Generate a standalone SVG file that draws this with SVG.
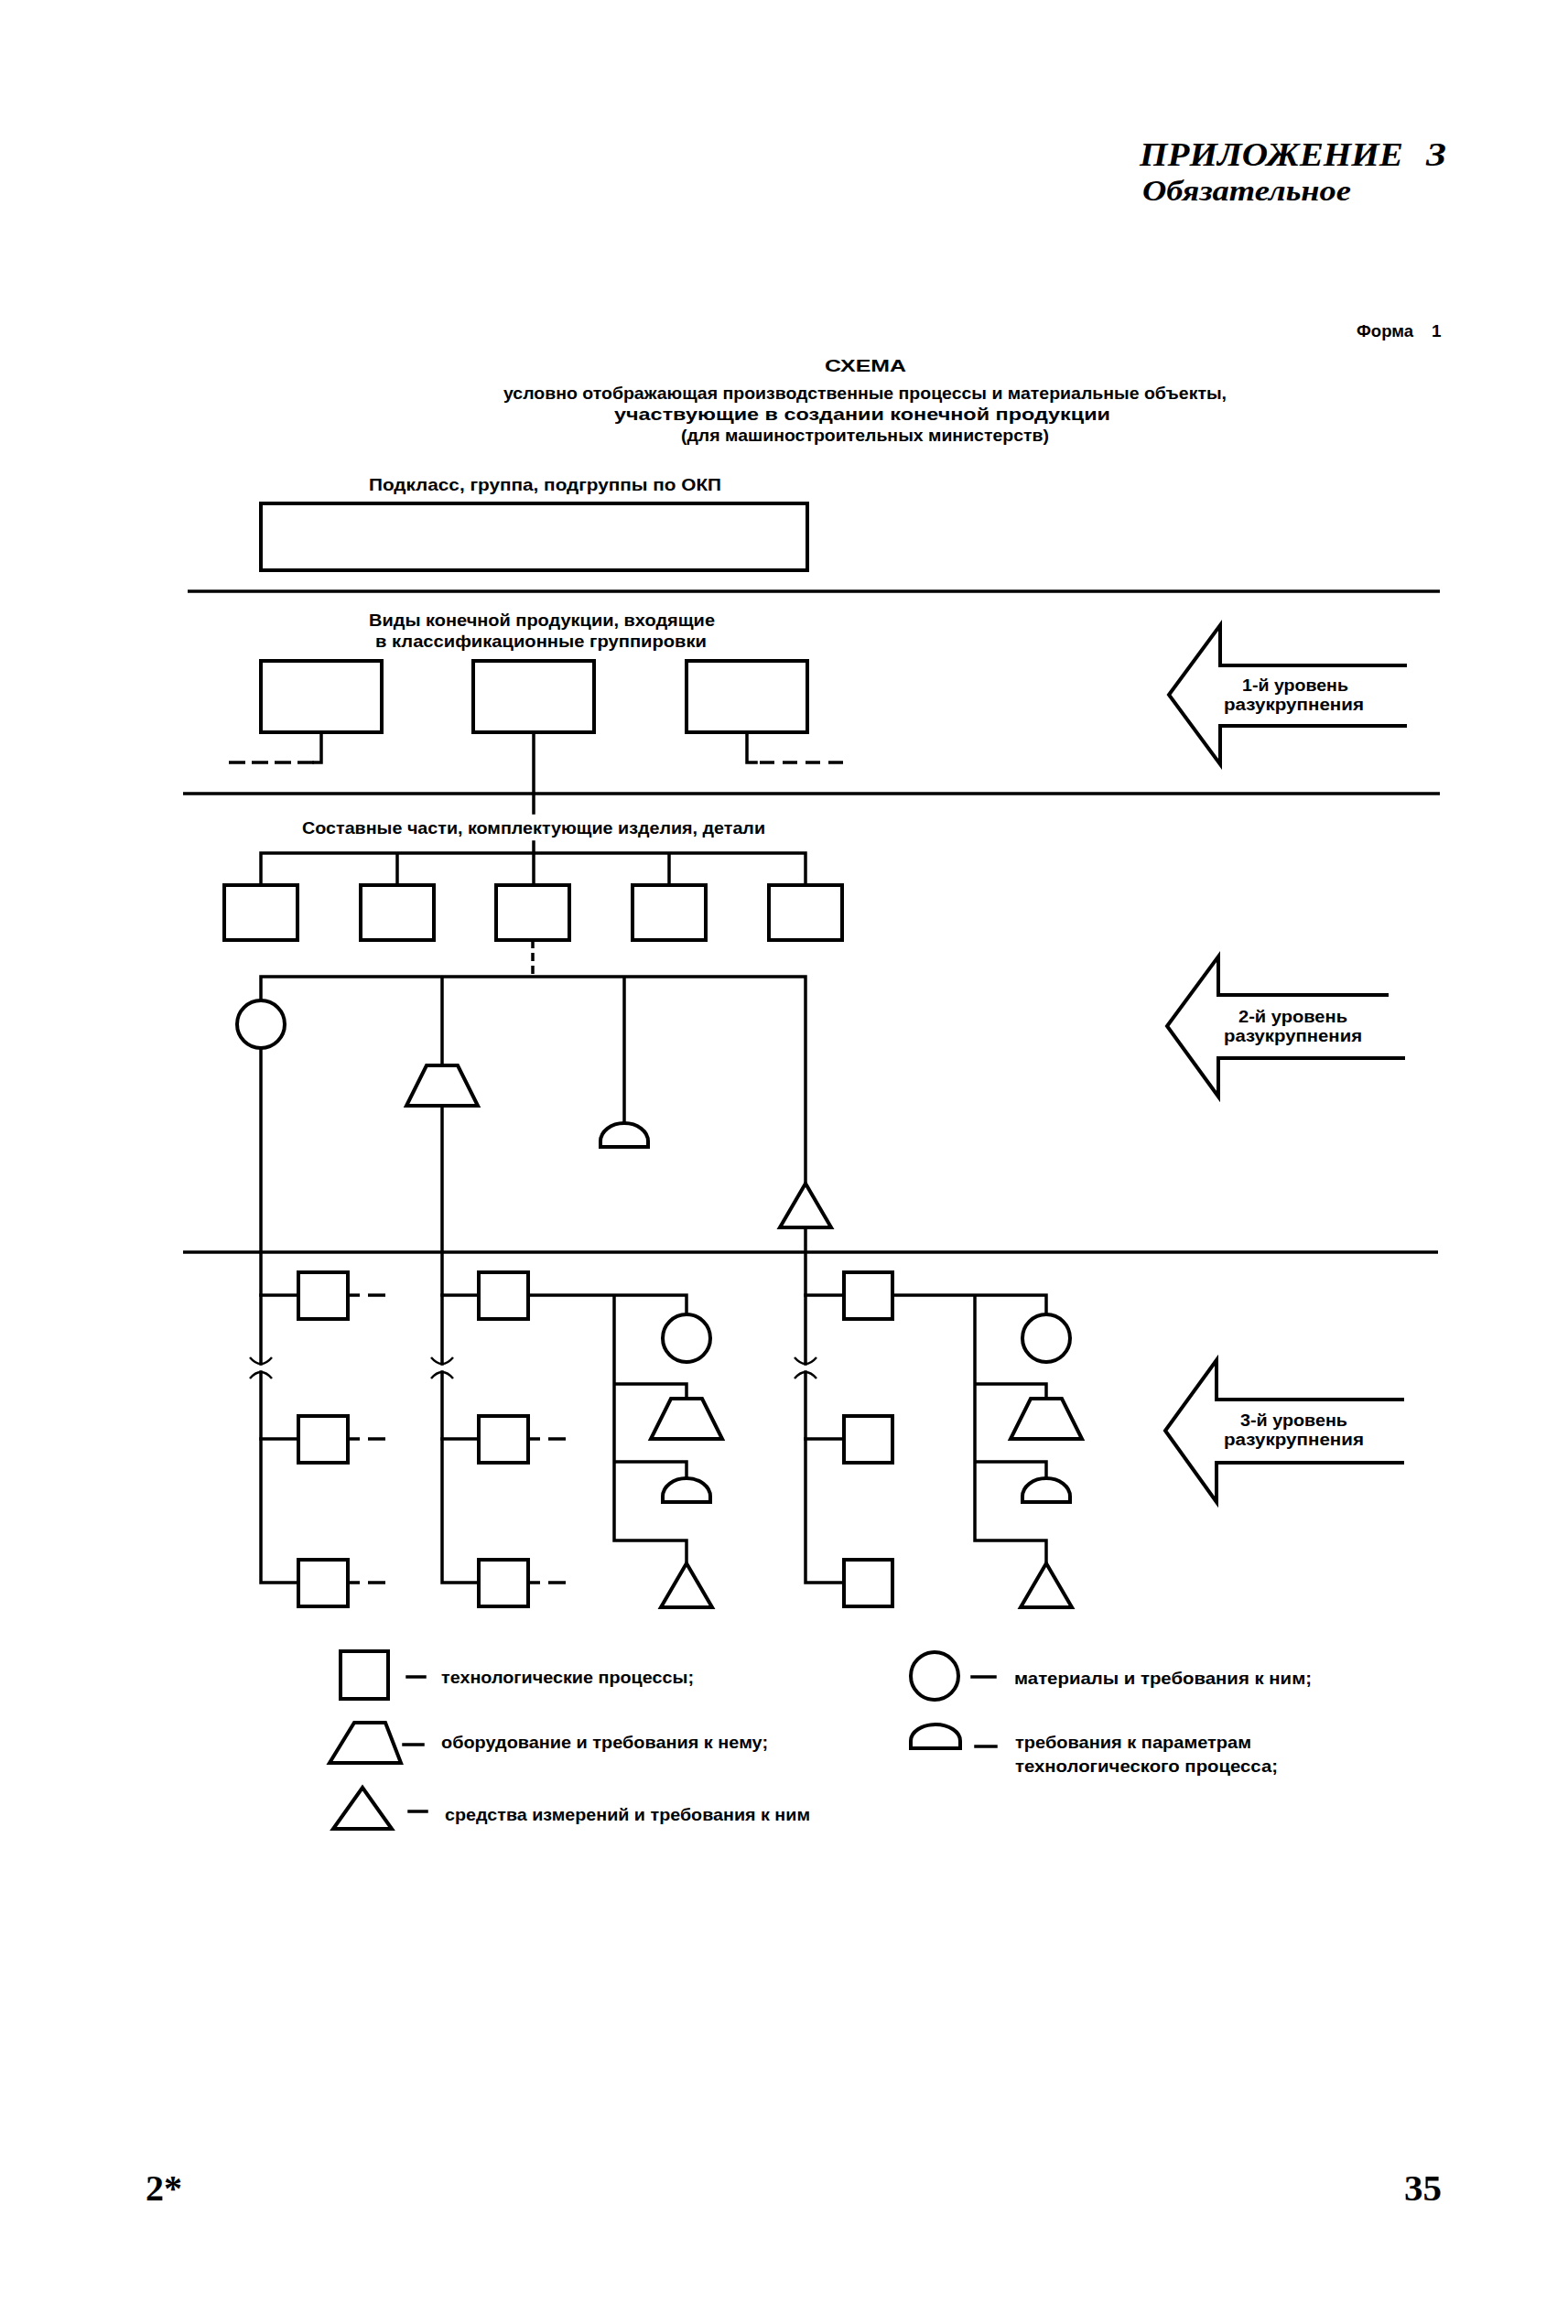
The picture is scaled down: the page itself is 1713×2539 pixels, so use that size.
<svg xmlns="http://www.w3.org/2000/svg" xmlns:xlink="http://www.w3.org/1999/xlink" width="1713" height="2539" viewBox="0 0 1713 2539">
<style>
.ln{stroke:#000;stroke-width:3.5;fill:none;stroke-linecap:square}
.sep{stroke:#000;stroke-width:3.5;fill:none}
.sh{stroke:#000;stroke-width:4;fill:#fff;stroke-linejoin:miter}
.br{stroke:#000;stroke-width:2.5;fill:none}
.t{font-family:"Liberation Sans",Arial,sans-serif;font-weight:bold;font-size:19px;fill:#000}
.ta{font-family:"Liberation Sans",Arial,sans-serif;font-weight:bold;font-size:18px;fill:#000}
.hd{font-family:"Liberation Serif","Times New Roman",serif;font-weight:bold;font-style:italic;fill:#000}
.pg{font-family:"Liberation Serif","Times New Roman",serif;font-weight:bold;font-size:41px;fill:#000}
</style>
<defs>
<path id="trap" d="M -17,0 L 17,0 L 39,44 L -39,44 Z"/>
<path id="dome" d="M -26,26 L -26,20 A 26 20 0 0 1 26,20 L 26,26 Z"/>
<path id="tri" d="M 0,0 L 28,48 L -28,48 Z"/>
</defs>
<rect width="1713" height="2539" fill="#fff"/>

<g id="header">
<text class="hd" x="1245" y="181" font-size="35" textLength="288" lengthAdjust="spacingAndGlyphs">ПРИЛОЖЕНИЕ</text>
<text class="hd" x="1558" y="181" font-size="35" textLength="22" lengthAdjust="spacingAndGlyphs">3</text>
<text class="hd" x="1248" y="219" font-size="31" textLength="228" lengthAdjust="spacingAndGlyphs">Обязательное</text>
<text class="t" x="1482" y="368" font-size="15" textLength="62" lengthAdjust="spacingAndGlyphs">Форма</text>
<text class="t" x="1564" y="368" font-size="19">1</text>
<text class="t" x="901" y="406" font-size="21" textLength="89" lengthAdjust="spacingAndGlyphs">СХЕМА</text>
<text class="t" x="550" y="436" textLength="790" lengthAdjust="spacingAndGlyphs">условно отображающая производственные процессы и материальные объекты,</text>
<text class="t" x="671" y="459" textLength="542" lengthAdjust="spacingAndGlyphs">участвующие в создании конечной продукции</text>
<text class="t" x="744" y="482" textLength="402" lengthAdjust="spacingAndGlyphs">(для машиностроительных министерств)</text>
</g>

<g id="separators">
<path class="sep" d="M 205,646 H 1573"/>
<path class="sep" d="M 200,867 H 1573"/>
<path class="sep" d="M 200,1368 H 1571"/>
</g>

<g id="okp">
<text class="t" x="403" y="536" textLength="385" lengthAdjust="spacingAndGlyphs">Подкласс, группа, подгруппы по ОКП</text>
<rect class="sh" x="285" y="550" width="597" height="73"/>
</g>

<g id="level1-label">
<text class="t" x="403" y="684" textLength="378" lengthAdjust="spacingAndGlyphs">Виды конечной продукции, входящие</text>
<text class="t" x="410" y="707" textLength="362" lengthAdjust="spacingAndGlyphs">в классификационные группировки</text>
</g>
<g id="product1"><rect class="sh" x="285" y="722" width="132" height="78"/></g>
<g id="product2"><rect class="sh" x="517" y="722" width="132" height="78"/></g>
<g id="product3"><rect class="sh" x="750" y="722" width="132" height="78"/></g>

<g id="level2-label">
<text class="t" x="330" y="911" textLength="506" lengthAdjust="spacingAndGlyphs">Составные части, комплектующие изделия, детали</text>
</g>
<g id="part1"><rect class="sh" x="245" y="967" width="80" height="60"/></g>
<g id="part2"><rect class="sh" x="394" y="967" width="80" height="60"/></g>
<g id="part3"><rect class="sh" x="542" y="967" width="80" height="60"/></g>
<g id="part4"><rect class="sh" x="691" y="967" width="80" height="60"/></g>
<g id="part5"><rect class="sh" x="840" y="967" width="80" height="60"/></g>

<g id="l2-material"><circle class="sh" cx="285" cy="1119" r="26"/></g>
<g id="l2-equipment"><use href="#trap" xlink:href="#trap" class="sh" x="483" y="1164"/></g>
<g id="l2-params"><use href="#dome" xlink:href="#dome" class="sh" x="682" y="1227"/></g>
<g id="l2-measure"><use href="#tri" xlink:href="#tri" class="sh" x="880" y="1293"/></g>

<g id="l3-col1">
<rect class="sh" x="326" y="1390" width="54" height="51"/>
<rect class="sh" x="326" y="1547" width="54" height="51"/>
<rect class="sh" x="326" y="1704" width="54" height="51"/>
</g>
<g id="l3-col2">
<rect class="sh" x="523" y="1390" width="54" height="51"/>
<rect class="sh" x="523" y="1547" width="54" height="51"/>
<rect class="sh" x="523" y="1704" width="54" height="51"/>
<circle class="sh" cx="750" cy="1462" r="26"/>
<use href="#trap" xlink:href="#trap" class="sh" x="750" y="1528"/>
<use href="#dome" xlink:href="#dome" class="sh" x="750" y="1615"/>
<use href="#tri" xlink:href="#tri" class="sh" x="750" y="1708"/>
</g>
<g id="l3-col3">
<rect class="sh" x="922" y="1390" width="53" height="51"/>
<rect class="sh" x="922" y="1547" width="53" height="51"/>
<rect class="sh" x="922" y="1704" width="53" height="51"/>
<circle class="sh" cx="1143" cy="1462" r="26"/>
<use href="#trap" xlink:href="#trap" class="sh" x="1143" y="1528"/>
<use href="#dome" xlink:href="#dome" class="sh" x="1143" y="1615"/>
<use href="#tri" xlink:href="#tri" class="sh" x="1143" y="1708"/>
</g>

<g id="arrow1">
<path class="sh" d="M 1537,727 H 1333 V 683 L 1277,759 L 1333,835 V 793 H 1537" style="fill:none"/>
<text class="ta" x="1357" y="755" textLength="116" lengthAdjust="spacingAndGlyphs">1-й уровень</text>
<text class="ta" x="1337" y="776" textLength="153" lengthAdjust="spacingAndGlyphs">разукрупнения</text>
</g>
<g id="arrow2">
<path class="sh" d="M 1517,1087 H 1331 V 1045 L 1275,1121 L 1331,1198 V 1156 H 1535" style="fill:none"/>
<text class="ta" x="1353" y="1117" textLength="119" lengthAdjust="spacingAndGlyphs">2-й уровень</text>
<text class="ta" x="1337" y="1138" textLength="151" lengthAdjust="spacingAndGlyphs">разукрупнения</text>
</g>
<g id="arrow3">
<path class="sh" d="M 1534,1529 H 1329 V 1486 L 1273,1563 L 1329,1641 V 1598 H 1534" style="fill:none"/>
<text class="ta" x="1355" y="1558" textLength="117" lengthAdjust="spacingAndGlyphs">3-й уровень</text>
<text class="ta" x="1337" y="1579" textLength="153" lengthAdjust="spacingAndGlyphs">разукрупнения</text>
</g>

<g id="connectors">
<path class="ln" d="M 351,800 V 833 H 343"/>
<path class="ln" d="M 343,833 H 249" stroke-dasharray="18 7" style="stroke-linecap:butt"/>
<path class="ln" d="M 816,800 V 833 H 826"/>
<path class="ln" d="M 830,833 H 925" stroke-dasharray="16 9" style="stroke-linecap:butt"/>
<path class="ln" d="M 583,800 V 888"/>
<path class="ln" d="M 583,920 V 967"/>
<path class="ln" d="M 285,932 H 880 M 285,932 V 967 M 434,932 V 967 M 731,932 V 967 M 880,932 V 967"/>
<path class="ln" d="M 582,1027 V 1067" stroke-dasharray="9 5" style="stroke-linecap:butt"/>
<path class="ln" d="M 285,1067 H 880 M 285,1067 V 1093 M 483,1067 V 1164 M 682,1067 V 1227 M 880,1067 V 1293"/>
<path class="ln" d="M 285,1145 V 1490 M 483,1208 V 1490 M 880,1341 V 1490"/>
<path class="br" d="M 273,1483 Q 285,1497 297,1483 M 471,1483 Q 483,1497 495,1483 M 868,1483 Q 880,1497 892,1483"/>
<path class="br" d="M 273,1506 Q 285,1492 297,1506 M 471,1506 Q 483,1492 495,1506 M 868,1506 Q 880,1492 892,1506"/>
<path class="ln" d="M 285,1499 V 1729 H 326 M 483,1499 V 1729 H 523 M 880,1499 V 1729 H 922"/>
<path class="ln" d="M 285,1415 H 326 M 285,1572 H 326 M 483,1415 H 523 M 483,1572 H 523 M 880,1415 H 922 M 880,1572 H 922"/>
<path class="ln" d="M 382,1415 H 421 M 382,1572 H 421 M 382,1729 H 421 M 579,1572 H 618 M 579,1729 H 618" stroke-dasharray="11 9 20 100" style="stroke-linecap:butt"/>
<path class="ln" d="M 577,1415 H 750 V 1436 M 671,1415 V 1683 H 750 V 1708 M 671,1512 H 750 V 1528 M 671,1597 H 750 V 1615"/>
<path class="ln" d="M 975,1415 H 1143 V 1436 M 1065,1415 V 1683 H 1143 V 1708 M 1065,1512 H 1143 V 1528 M 1065,1597 H 1143 V 1615"/>
</g>

<g id="legend">
<rect class="sh" x="372" y="1804" width="52" height="52"/>
<path class="ln" d="M 445,1832 H 464"/>
<text class="t" x="482" y="1839" textLength="276" lengthAdjust="spacingAndGlyphs">технологические процессы;</text>
<polygon class="sh" points="387,1882 421,1882 438,1926 360,1926"/>
<path class="ln" d="M 441,1906 H 462"/>
<text class="t" x="482" y="1910" textLength="357" lengthAdjust="spacingAndGlyphs">оборудование и требования к нему;</text>
<polygon class="sh" points="396,1953 428,1998 364,1998"/>
<path class="ln" d="M 447,1979 H 466"/>
<text class="t" x="486" y="1989" textLength="399" lengthAdjust="spacingAndGlyphs">средства измерений и требования к ним</text>
<circle class="sh" cx="1021" cy="1831" r="26"/>
<path class="ln" d="M 1062,1832 H 1087"/>
<text class="t" x="1108" y="1840" textLength="325" lengthAdjust="spacingAndGlyphs">материалы и требования к ним;</text>
<path class="sh" d="M 995,1910 L 995,1902 A 27 18 0 0 1 1049,1902 L 1049,1910 Z"/>
<path class="ln" d="M 1066,1908 H 1088"/>
<text class="t" x="1109" y="1910" textLength="258" lengthAdjust="spacingAndGlyphs">требования к параметрам</text>
<text class="t" x="1109" y="1936" textLength="287" lengthAdjust="spacingAndGlyphs">технологического процесса;</text>
</g>

<g id="footer">
<text class="pg" x="159" y="2404" textLength="40" lengthAdjust="spacingAndGlyphs">2*</text>
<text class="pg" x="1534" y="2404" textLength="41" lengthAdjust="spacingAndGlyphs">35</text>
</g>
</svg>
